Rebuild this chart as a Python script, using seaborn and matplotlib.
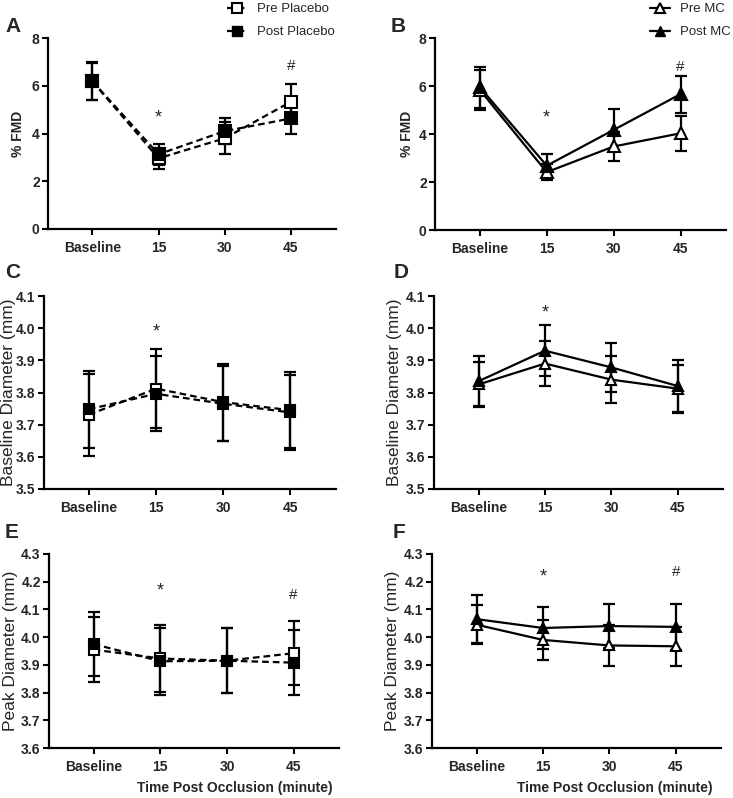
import numpy as np
import pandas as pd
import matplotlib
matplotlib.use("Agg")
import matplotlib.pyplot as plt
from matplotlib.lines import Line2D
import seaborn as sns

sns.set_style("ticks")
plt.rcParams["font.family"] = ["Liberation Sans", "DejaVu Sans"]

times = ["Baseline", "15", "30", "45"]

# % FMD
fmd_pre_placebo = [6.18, 2.96, 3.80, 5.33]
fmd_pre_placebo_err = [0.78, 0.45, 0.67, 0.76]
fmd_post_placebo = [6.19, 3.13, 4.10, 4.63]
fmd_post_placebo_err = [0.79, 0.45, 0.53, 0.63]
fmd_pre_mc = [5.84, 2.41, 3.48, 4.03]
fmd_pre_mc_err = [0.84, 0.32, 0.60, 0.72]
fmd_post_mc = [5.95, 2.68, 4.17, 5.66]
fmd_post_mc_err = [0.86, 0.48, 0.86, 0.77]

# baseline diameter (mm)
bd_pre_placebo = [3.731, 3.812, 3.770, 3.745]
bd_pre_placebo_err = [0.127, 0.122, 0.120, 0.118]
bd_post_placebo = [3.748, 3.796, 3.765, 3.738]
bd_post_placebo_err = [0.120, 0.116, 0.117, 0.117]
bd_pre_mc = [3.825, 3.890, 3.840, 3.812]
bd_pre_mc_err = [0.070, 0.070, 0.072, 0.075]
bd_post_mc = [3.835, 3.930, 3.878, 3.820]
bd_post_mc_err = [0.077, 0.080, 0.077, 0.080]

# peak diameter (mm)
pd_pre_placebo = [3.955, 3.923, 3.915, 3.942]
pd_pre_placebo_err = [0.117, 0.120, 0.118, 0.115]
pd_post_placebo = [3.975, 3.913, 3.915, 3.908]
pd_post_placebo_err = [0.115, 0.120, 0.118, 0.117]
pd_pre_mc = [4.045, 3.990, 3.970, 3.967]
pd_pre_mc_err = [0.070, 0.072, 0.073, 0.070]
pd_post_mc = [4.065, 4.033, 4.040, 4.037]
pd_post_mc_err = [0.087, 0.077, 0.080, 0.083]

# significance marks: (time index, y, symbol)
marks_a = [(1, 4.63, "*"), (3, 6.83, "#")]
marks_b = [(1, 4.66, "*"), (3, 6.81, "#")]
marks_c = [(1, 3.988, "*")]
marks_d = [(1, 4.046, "*")]
marks_e = [(1, 4.168, "*"), (3, 4.153, "#")]
marks_f = [(1, 4.217, "*"), (3, 4.234, "#")]

W, H = 733, 798
fig = plt.figure(figsize=(W / 100, H / 100), dpi=100)


def box(l, r, t, b):
    return [l / W, 1 - b / H, (r - l) / W, (b - t) / H]


axes = {
    "A": fig.add_axes(box(48, 336, 38, 229)),
    "B": fig.add_axes(box(435, 726, 38, 230)),
    "C": fig.add_axes(box(44, 336, 296, 489)),
    "D": fig.add_axes(box(434, 723, 296, 489)),
    "E": fig.add_axes(box(49, 339, 554, 748)),
    "F": fig.add_axes(box(432, 721, 554, 748)),
}

dash = (0, (3, 1.8))


def draw(ax, pre, pre_err, post, post_err, marker, ls, ms):
    for vals, errs, face, z in [(pre, pre_err, "white", 3), (post, post_err, "black", 4)]:
        df = pd.DataFrame({"x": np.arange(len(times)), "y": vals, "err": errs})
        ax.errorbar(df["x"], df["y"], yerr=df["err"], fmt="none", ecolor="black",
                    elinewidth=1.6, capsize=4, capthick=1.6, zorder=2)
        sns.lineplot(data=df, x="x", y="y", ax=ax, color="black", linestyle=ls,
                     linewidth=1.6, marker=marker, markersize=ms,
                     markerfacecolor=face, markeredgecolor="black",
                     markeredgewidth=1.5, zorder=z)


draw(axes["A"], fmd_pre_placebo, fmd_pre_placebo_err, fmd_post_placebo, fmd_post_placebo_err, "s", dash, 8)
draw(axes["B"], fmd_pre_mc, fmd_pre_mc_err, fmd_post_mc, fmd_post_mc_err, "^", "-", 8)
draw(axes["C"], bd_pre_placebo, bd_pre_placebo_err, bd_post_placebo, bd_post_placebo_err, "s", dash, 7)
draw(axes["D"], bd_pre_mc, bd_pre_mc_err, bd_post_mc, bd_post_mc_err, "^", "-", 7)
draw(axes["E"], pd_pre_placebo, pd_pre_placebo_err, pd_post_placebo, pd_post_placebo_err, "s", dash, 7)
draw(axes["F"], pd_pre_mc, pd_pre_mc_err, pd_post_mc, pd_post_mc_err, "^", "-", 7)

# ylim, ticks, format, label, label weight, label size, label x (axes fraction), marks
settings = {
    "A": ((0, 8), np.arange(0, 9, 2), "%d", "% FMD", "bold", 10, -0.104, marks_a),
    "B": ((0, 8), np.arange(0, 9, 2), "%d", "% FMD", "bold", 10, -0.096, marks_b),
    "C": ((3.5, 4.1), np.arange(3.5, 4.11, 0.1), "%.1f", "Baseline Diameter (mm)", "normal", 12.5, -0.123, marks_c),
    "D": ((3.5, 4.1), np.arange(3.5, 4.11, 0.1), "%.1f", "Baseline Diameter (mm)", "normal", 12.5, -0.135, marks_d),
    "E": ((3.6, 4.3), np.arange(3.6, 4.31, 0.1), "%.1f", "Peak Diameter (mm)", "normal", 12.5, -0.134, marks_e),
    "F": ((3.6, 4.3), np.arange(3.6, 4.31, 0.1), "%.1f", "Peak Diameter (mm)", "normal", 12.5, -0.138, marks_f),
}

for key, ax in axes.items():
    ylim, yt, fmtstr, ylab, lw_, lsz, lx, marks = settings[key]
    ax.set_xlim(-0.67, 3.68)
    ax.set_ylim(*ylim)
    ax.set_yticks(yt)
    ax.set_yticklabels([fmtstr % v for v in yt], fontsize=10, fontweight="bold")
    ax.set_xticks(range(len(times)))
    ax.set_xticklabels(times, fontsize=10, fontweight="bold")
    ax.set_xlabel("")
    ax.set_ylabel(ylab, fontsize=lsz, fontweight=lw_)
    ax.yaxis.set_label_coords(lx, 0.5)
    ax.yaxis.label.set_va("center")
    ax.tick_params(axis="both", length=4, width=1.5, color="black", pad=2)
    ax.tick_params(axis="x", pad=4.5)
    for s in ["left", "bottom"]:
        ax.spines[s].set_linewidth(1.6)
        ax.spines[s].set_color("black")
    sns.despine(ax=ax)
    for xi, yv, sym in marks:
        ax.text(xi, yv, sym, ha="center", va="center", fontsize=13 if sym == "*" else 11)

for key in ["E", "F"]:
    axes[key].set_xlabel("Time Post Occlusion (minute)", fontsize=10, fontweight="bold")
axes["E"].xaxis.set_label_coords(0.64, -0.17)
axes["F"].xaxis.set_label_coords(0.633, -0.17)
axes["E"].xaxis.label.set_va("top")
axes["F"].xaxis.label.set_va("top")

letters = {"A": (5, 27), "B": (391, 27), "C": (5, 273), "D": (394, 273), "E": (5, 533), "F": (393, 533)}
for k, (lx, ly) in letters.items():
    fig.text(lx / W, 1 - ly / H, k, fontsize=15, fontweight="bold", ha="left", va="center")

h_placebo = [
    Line2D([], [], color="black", linestyle=dash, lw=1.6, marker="s", ms=7, mfc="white", mec="black", mew=1.5),
    Line2D([], [], color="black", linestyle=dash, lw=1.6, marker="s", ms=7, mfc="black", mec="black"),
]
fig.legend(h_placebo, ["Pre Placebo", "Post Placebo"], loc="upper left",
           bbox_to_anchor=(215 / W, 1.011), frameon=False, fontsize=9.5,
           handlelength=1.5, handletextpad=0.8, labelspacing=0.8)
h_mc = [
    Line2D([], [], color="black", lw=1.6, marker="^", ms=7, mfc="white", mec="black", mew=1.5),
    Line2D([], [], color="black", lw=1.6, marker="^", ms=7, mfc="black", mec="black"),
]
fig.legend(h_mc, ["Pre MC", "Post MC"], loc="upper left",
           bbox_to_anchor=(638 / W, 1.011), frameon=False, fontsize=9.5,
           handlelength=1.5, handletextpad=0.8, labelspacing=0.8)

fig.savefig("out.png", dpi=100)
